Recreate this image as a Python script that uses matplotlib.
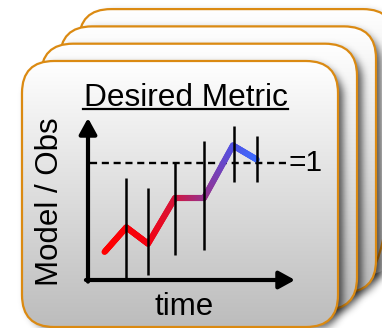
import matplotlib.pyplot as plt
import numpy as np
from matplotlib.collections import LineCollection
from matplotlib.colors import LinearSegmentedColormap
from matplotlib.patches import FancyBboxPatch

plt.rcParams['font.family'] = ['Liberation Sans', 'DejaVu Sans']

W, H = 382, 328

# sketch values: ratio of model to observation over time
time = [0.8, 1.85, 2.9, 4.2, 5.6, 7.0, 8.15]
ratio = [0.24, 0.45, 0.31, 0.70, 0.70, 1.15, 1.03]
err_time = [1.85, 2.9, 4.2, 5.6, 7.05, 8.15]
err_low = [0.0, 0.04, 0.21, 0.26, 0.84, 0.84]
err_high = [0.87, 0.79, 1.0, 1.19, 1.32, 1.23]
target = 1

title = "Desired Metric"
xlabel = "time"
ylabel = "Model / Obs"

ORANGE = "#db8a12"
line_cmap = LinearSegmentedColormap.from_list(
    "metric",
    [(0.0, "#ff0000"), (0.28, "#f5000f"), (0.46, "#d81438"),
     (0.65, "#9c3088"), (0.84, "#5550e0"), (1.0, "#3d6bff")],
)
card_cmap = LinearSegmentedColormap.from_list("card", ["#bcbcbc", "#ffffff"])

yy, xx = np.mgrid[0:H, 0:W] + 0.5


def round_mask(x0, y0, x1, y1, r):
    dx = np.maximum(np.maximum(x0 + r - xx, 0), xx - (x1 - r))
    dy = np.maximum(np.maximum(y0 + r - yy, 0), yy - (y1 - r))
    return (np.hypot(dx, dy) <= r).astype(float)


def blur(img, sigma):
    k = np.arange(-3 * sigma, 3 * sigma + 1)
    k = np.exp(-k ** 2 / (2 * sigma ** 2))
    k /= k.sum()
    img = np.apply_along_axis(lambda m: np.convolve(m, k, mode="same"), 0, img)
    img = np.apply_along_axis(lambda m: np.convolve(m, k, mode="same"), 1, img)
    return img


fig = plt.figure(figsize=(W / 100, H / 100), dpi=100)
bg = fig.add_axes([0, 0, 1, 1])
bg.set_xlim(0, W)
bg.set_ylim(H, 0)
bg.axis("off")

# stack of cards, back to front
x0, y0, cw, ch, r = 22, 61, 316, 266, 32
for k in [3, 2, 1, 0]:
    cx = x0 + 19 * k
    cy = y0 - 17.3 * k
    z = 10 * (4 - k)

    shade = np.zeros((H, W, 4))
    shade[..., 3] = 0.65 * blur(round_mask(cx + 5, cy + 4, cx + cw + 5, cy + ch + 4, r), 4)
    bg.imshow(shade, extent=(0, W, H, 0), interpolation="bilinear", zorder=z)

    card = FancyBboxPatch((cx, cy), cw, ch, boxstyle=f"round,pad=0,rounding_size={r}",
                          facecolor="none", edgecolor=ORANGE, lw=1.6, zorder=z + 2)
    bg.add_patch(card)
    grad = np.linspace(1, 0, 256)[:, None]
    im = bg.imshow(grad, cmap=card_cmap, extent=(cx, cx + cw, cy + ch, cy),
                   aspect="auto", interpolation="bilinear", zorder=z + 1)
    im.set_clip_path(card)

bg.set_xlim(0, W)
bg.set_ylim(H, 0)

bg.text(185.5, 105.5, title, ha="center", va="baseline", fontsize=22.8, zorder=60)
bg.plot([83, 288], [108.5, 108.5], color="black", lw=1.6, zorder=60)
bg.text(50, 201.5, ylabel, rotation=90, ha="center", va="center", fontsize=22.5, zorder=60)
bg.text(184, 315, xlabel, ha="center", va="baseline", fontsize=22.5, zorder=60)

# the little plot itself
ax = fig.add_axes([88 / W, 48 / H, 207 / W, 162 / H])
ax.set_xlim(0, 10)
ax.set_ylim(0, 162 / 117)
ax.axis("off")

arrow = dict(arrowstyle="-|>,head_length=0.4,head_width=0.22", mutation_scale=24,
             lw=3, color="black", shrinkA=0, shrinkB=0)
ax.annotate("", xy=(0, 1), xytext=(0, -0.01), xycoords="axes fraction",
            arrowprops=arrow, annotation_clip=False)
ax.annotate("", xy=(1, 0), xytext=(-0.01, 0), xycoords="axes fraction",
            arrowprops=arrow, annotation_clip=False)

ax.axhline(target, xmin=0.01, xmax=0.966, color="black", lw=1.7, dashes=(3, 2))
ax.text(9.7, target, f"={target}", ha="left", va="center", fontsize=21.5)

ax.vlines(err_time, err_low, err_high, color="black", lw=1.8, zorder=3)

pts = np.column_stack([time, ratio])
segs = []
for a, b in zip(pts[:-1], pts[1:]):
    t = np.linspace(0, 1, 30)[:, None]
    p = a + (b - a) * t
    segs += [p[i:i + 2] for i in range(len(p) - 1)]
lc = LineCollection(segs, cmap=line_cmap, norm=plt.Normalize(min(time), max(time)),
                    lw=4.4, capstyle="round", zorder=2)
lc.set_array(np.array([s[:, 0].mean() for s in segs]))
ax.add_collection(lc)

fig.savefig("out.png", dpi=100)
